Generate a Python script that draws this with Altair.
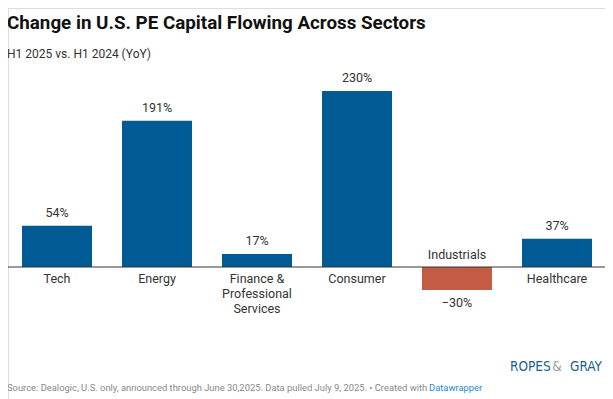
import altair as alt
import pandas as pd

sectors = ["Tech", "Energy", "Finance & Professional Services", "Consumer", "Industrials", "Healthcare"]
sector_labels = ["Tech", "Energy", "Finance &\nProfessional\nServices", "Consumer", "Industrials", "Healthcare"]
values = [54, 191, 17, 230, -30, 37]
value_labels = ["54%", "191%", "17%", "230%", "\u221230%", "37%"]

title_text = "Change in U.S. PE Capital Flowing Across Sectors"
subtitle_text = "H1 2025 vs. H1 2024 (YoY)"
footer_text = "Source: Dealogic, U.S. only, announced through June 30,2025. Data pulled July 9, 2025. \u2022 Created with "
footer_link = "Datawrapper"

df = pd.DataFrame({"sector": sectors, "label": sector_labels, "value": values, "vlabel": value_labels})

W, H = 597, 391
FONT = "Roboto"
BLUE = "#005a94"
RED = "#c25c45"

xs = alt.X("sector:N", sort=sectors, axis=None,
           scale=alt.Scale(range=[-1, 599], paddingInner=0.3, paddingOuter=0.15))
ys = alt.Scale(domain=[-172.5, 338.47], nice=False, zero=False)

base = alt.Chart(df)

bars = base.mark_bar().encode(
    x=xs,
    y=alt.Y("value:Q", scale=ys, axis=None),
    y2=alt.datum(0),
    color=alt.condition("datum.value < 0", alt.value(RED), alt.value(BLUE)),
)

rule = alt.Chart(pd.DataFrame({"z": [0]})).mark_rule(color="#333333", strokeWidth=1).encode(
    y=alt.Y("z:Q", scale=ys, axis=None), x=alt.value(-1), x2=alt.value(599)
)

pos_vals = base.transform_filter("datum.value >= 0").mark_text(
    font=FONT, fontSize=12.5, color="#333333", baseline="bottom", dy=-6
).encode(x=xs, y=alt.Y("value:Q", scale=ys, axis=None), text="vlabel:N")

neg_vals = base.transform_filter("datum.value < 0").mark_text(
    font=FONT, fontSize=12.5, color="#333333", baseline="top", dy=7
).encode(x=xs, y=alt.Y("value:Q", scale=ys, axis=None), text="vlabel:N")

pos_cats = base.transform_filter("datum.value >= 0").mark_text(
    font=FONT, fontSize=12.5, color="#333333", baseline="top", dy=6, lineBreak="\n", lineHeight=15
).encode(x=xs, y=alt.Y("z:Q", scale=ys, axis=None), text="label:N").transform_calculate(z="0")

neg_cats = base.transform_filter("datum.value < 0").mark_text(
    font=FONT, fontSize=12.5, color="#333333", baseline="bottom", dy=-5
).encode(x=xs, y=alt.Y("z:Q", scale=ys, axis=None), text="label:N").transform_calculate(z="0")

one = alt.Chart(pd.DataFrame({"t": [title_text], "s": [subtitle_text], "f": [footer_text], "l": [footer_link]}))

title = one.mark_text(font=FONT, fontSize=18.8, fontWeight="bold", color="#111111", align="left",
                      baseline="alphabetic").encode(x=alt.value(-1), y=alt.value(21), text="t:N")
subtitle = one.mark_text(font=FONT, fontSize=12, color="#333333", align="left",
                         baseline="alphabetic").encode(x=alt.value(-1), y=alt.value(50), text="s:N")
footer = one.mark_text(font=FONT, fontSize=9.4, color="#888888", align="left",
                       baseline="alphabetic").encode(x=alt.value(-1), y=alt.value(383), text="f:N")
link = one.mark_text(font=FONT, fontSize=9.4, color="#1d8bd0", align="left",
                     baseline="alphabetic").encode(x=alt.value(421), y=alt.value(383), text="l:N")

LOGO_FONT = "DejaVu Sans Condensed"
logo1 = alt.Chart(pd.DataFrame({"p": ["ROPES"]})).mark_text(
    font=LOGO_FONT, fontSize=13.5, color="#1a5f8f", align="left", baseline="alphabetic"
).encode(x=alt.value(502), y=alt.value(363), text="p:N")
logo2 = alt.Chart(pd.DataFrame({"p": ["&"]})).mark_text(
    font=LOGO_FONT, fontSize=13.5, color="#9a9a9a", align="center", baseline="alphabetic"
).encode(x=alt.value(549), y=alt.value(363), text="p:N")
logo3 = alt.Chart(pd.DataFrame({"p": ["GRAY"]})).mark_text(
    font=LOGO_FONT, fontSize=13.5, color="#1a5f8f", align="right", baseline="alphabetic"
).encode(x=alt.value(594), y=alt.value(363), text="p:N")

chart = alt.layer(
    bars, rule, pos_vals, neg_vals, pos_cats, neg_cats, title, subtitle, footer, link, logo1, logo2, logo3
).properties(
    width=W, height=H, autosize=alt.AutoSizeParams(type="none"), padding=0
).configure_view(stroke=None).configure(background="white")

chart.save("out.html", embed_options={"renderer": "svg", "actions": False})
